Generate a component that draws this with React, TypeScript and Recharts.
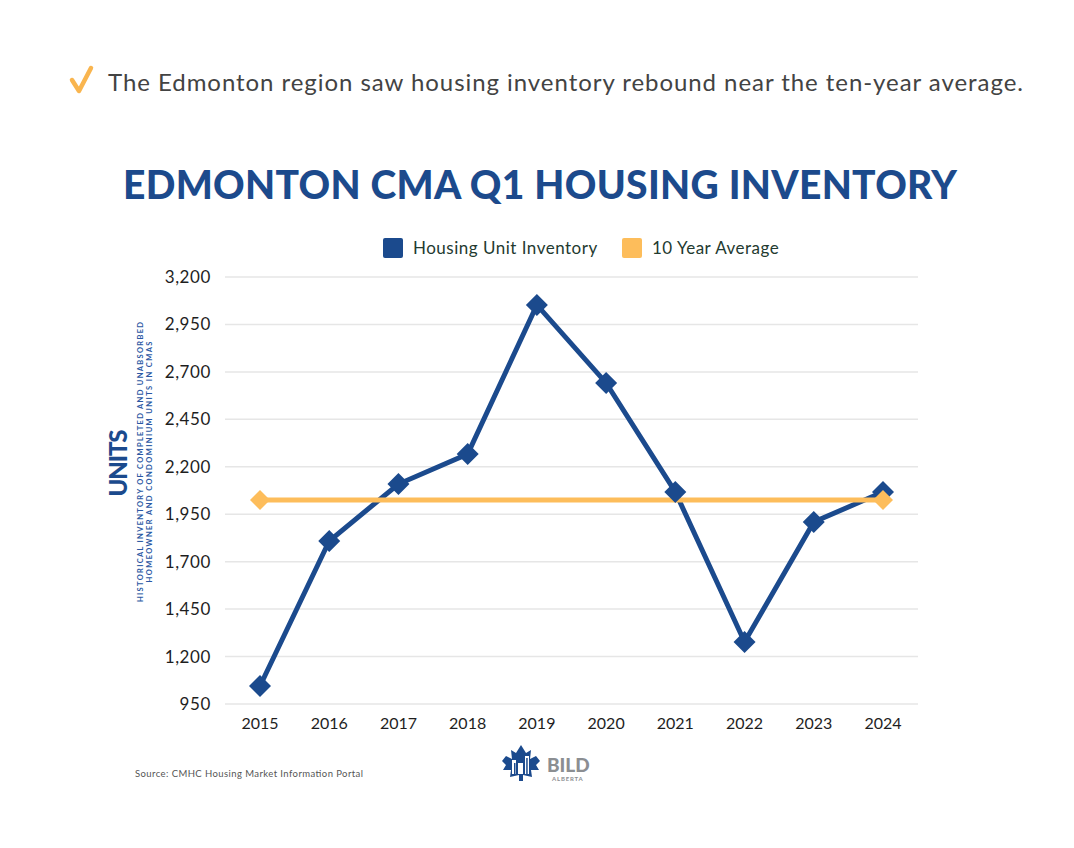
import React from "react";
import { LineChart, Line, XAxis, YAxis, CartesianGrid, Legend } from "recharts";

// Q1 housing inventory, Edmonton CMA
const years = ["2015", "2016", "2017", "2018", "2019", "2020", "2021", "2022", "2023", "2024"];
const inventory = [1045, 1809, 2109, 2267, 3053, 2642, 2067, 1277, 1909, 2067];
const tenYearAverage = [2025, 2025, 2025, 2025, 2025, 2025, 2025, 2025, 2025, 2025];
const yTicks = [950, 1200, 1450, 1700, 1950, 2200, 2450, 2700, 2950, 3200];

const BLUE = "#1b4a8d";
const ORANGE = "#fdbd5b";
const FONT = "Lato, 'Open Sans', sans-serif";
const LEGEND_HEIGHT = 24;

const data = years.map((year, i) => ({
  year,
  inventory: inventory[i],
  average: tenYearAverage[i],
}));

function diamond(cx: number, cy: number, r: number, fill: string, key: string) {
  return (
    <polygon
      key={key}
      points={`${cx},${cy - r} ${cx + r},${cy} ${cx},${cy + r} ${cx - r},${cy}`}
      fill={fill}
    />
  );
}

const legendItems = [
  { label: "Housing Unit Inventory", color: BLUE, left: 383 },
  { label: "10 Year Average", color: ORANGE, left: 622 },
];

function ChartLegend() {
  return (
    <div style={{ position: "relative", height: LEGEND_HEIGHT, width: 1074 }}>
      {legendItems.map((item) => (
        <div
          key={item.label}
          style={{
            position: "absolute",
            left: item.left,
            top: 0,
            display: "flex",
            alignItems: "center",
            fontFamily: FONT,
            fontSize: 17,
            letterSpacing: 0.5,
            color: "#233a30",
            whiteSpace: "nowrap",
            lineHeight: "22px",
          }}
        >
          <span
            style={{
              display: "inline-block",
              width: 20,
              height: 20,
              background: item.color,
              borderRadius: 2,
              marginRight: 10,
            }}
          />
          {item.label}
        </div>
      ))}
    </div>
  );
}

export default function App() {
  return (
    <div
      style={{
        position: "absolute",
        left: 0,
        top: 0,
        width: 1074,
        height: 848,
        background: "#fff",
        overflow: "hidden",
      }}
    >
      <LineChart
        width={1074}
        height={848}
        data={data}
        margin={{ top: 277 - LEGEND_HEIGHT, right: 156, bottom: 114, left: 165 }}
      >
        <CartesianGrid vertical={false} stroke="#e6e6e6" strokeWidth={1.5} />
        <XAxis
          dataKey="year"
          axisLine={false}
          tickLine={false}
          padding={{ left: 35, right: 35 }}
          tickMargin={8}
          tick={{ fill: "#1e1e1e", fontSize: 16, fontFamily: FONT }}
        />
        <YAxis
          width={60}
          domain={[950, 3200]}
          ticks={yTicks}
          interval={0}
          axisLine={false}
          tickLine={false}
          tickMargin={8}
          tickFormatter={(v: number) => v.toLocaleString("en-US")}
          tick={{ fill: "#1e1e1e", fontSize: 17, fontFamily: FONT, letterSpacing: 0.6 }}
        />
        <Legend
          verticalAlign="top"
          wrapperStyle={{ top: 237, left: 0, width: 1074, height: LEGEND_HEIGHT }}
          content={() => <ChartLegend />}
        />
        <Line
          dataKey="inventory"
          name="Housing Unit Inventory"
          stroke={BLUE}
          strokeWidth={5}
          isAnimationActive={false}
          dot={(p: any) => diamond(p.cx, p.cy, 11, BLUE, `inv-${p.index}`)}
          activeDot={false}
        />
        <Line
          dataKey="average"
          name="10 Year Average"
          stroke={ORANGE}
          strokeWidth={5}
          isAnimationActive={false}
          dot={(p: any) =>
            p.index === 0 || p.index === years.length - 1 ? (
              diamond(p.cx, p.cy, 10, ORANGE, `avg-${p.index}`)
            ) : (
              <g key={`avg-${p.index}`} />
            )
          }
          activeDot={false}
        />
      </LineChart>

      <svg
        width={1074}
        height={848}
        style={{ position: "absolute", left: 0, top: 0, pointerEvents: "none" }}
      >
        {/* headline with check mark */}
        <polyline
          points="72,80 79,91 91,68"
          fill="none"
          stroke="#f9b54f"
          strokeWidth={4.5}
          strokeLinecap="round"
          strokeLinejoin="round"
        />
        <text
          x={108}
          y={91}
          fontFamily={FONT}
          fontSize={24}
          fill="#434343"
          textLength={915}
          lengthAdjust="spacing"
        >
          The Edmonton region saw housing inventory rebound near the ten-year average.
        </text>

        <text
          x={540}
          y={199}
          textAnchor="middle"
          fontFamily={FONT}
          fontSize={39}
          fontWeight={900}
          fill="#1c4a8c"
          textLength={834}
          lengthAdjust="spacing"
        >
          EDMONTON CMA Q1 HOUSING INVENTORY
        </text>

        {/* y-axis titles */}
        <text
          transform="translate(127,463) rotate(-90)"
          textAnchor="middle"
          fontFamily={FONT}
          fontSize={24}
          fontWeight={900}
          fill={BLUE}
          textLength={67}
          lengthAdjust="spacing"
        >
          UNITS
        </text>
        <text
          transform="translate(143,462) rotate(-90)"
          textAnchor="middle"
          fontFamily={FONT}
          fontSize={7.5}
          fontWeight={700}
          fill="#2b58a3"
          textLength={280}
          lengthAdjust="spacing"
        >
          HISTORICAL INVENTORY OF COMPLETED AND UNABSORBED
        </text>
        <text
          transform="translate(152,462) rotate(-90)"
          textAnchor="middle"
          fontFamily={FONT}
          fontSize={7.5}
          fontWeight={700}
          fill="#2b58a3"
          textLength={241}
          lengthAdjust="spacing"
        >
          HOMEOWNER AND CONDOMINIUM UNITS IN CMAS
        </text>

        <text
          x={135}
          y={777}
          fontFamily={FONT}
          fontSize={9.5}
          fill="#555"
          textLength={228}
          lengthAdjust="spacing"
        >
          Source: CMHC Housing Market Information Portal
        </text>

        {/* BILD Alberta logo */}
        <g transform="translate(521,763)">
          <polygon
            fill={BLUE}
            points="0,-18 5,-10 10,-13 9,-4 15,-7 19,-2 15,2 18,7 10,7 11,14 2,12 2,18 -2,18 -2,12 -11,14 -10,7 -18,7 -15,2 -19,-2 -15,-7 -9,-4 -10,-13 -5,-10"
          />
          <rect x={-9} y={-3} width={4} height={14} fill="#fff" />
          <rect x={-3} y={0} width={5} height={11} fill="#fff" />
          <rect x={4} y={-7} width={4} height={18} fill="#fff" />
          <rect x={-7} y={0} width={1.5} height={11} fill={BLUE} />
          <rect x={5.2} y={-5} width={1.5} height={16} fill={BLUE} />
        </g>
        <text x={547} y={772} fontFamily={FONT} fontSize={19} fontWeight={900} fill="#8b8e92">
          BILD
        </text>
        <text x={552} y={781} fontFamily={FONT} fontSize={6} fontWeight={700} fill="#8b8e92" letterSpacing={0.8}>
          ALBERTA
        </text>
      </svg>
    </div>
  );
}
